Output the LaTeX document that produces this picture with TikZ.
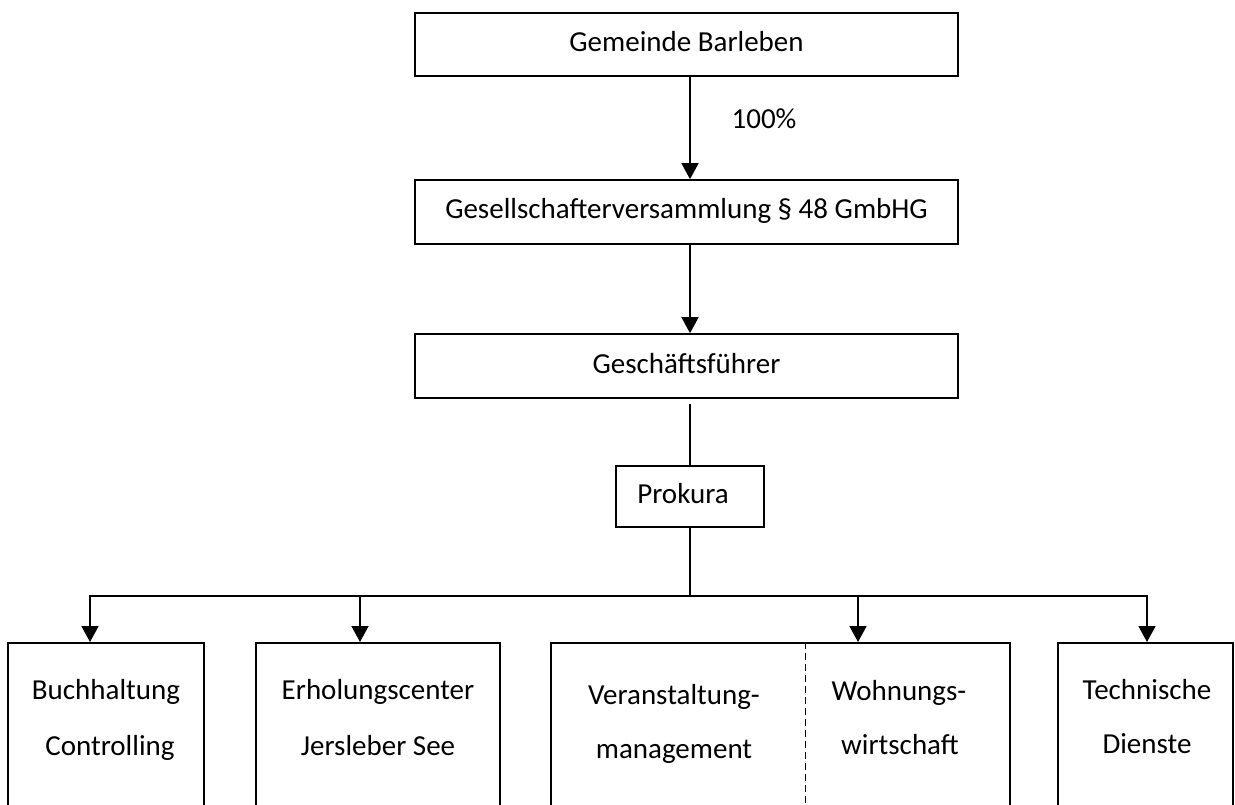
\documentclass[tikz,border=0pt]{standalone}
\usepackage{fontspec}
\setmainfont{Carlito}
\usetikzlibrary{arrows.meta}
\begin{document}
\begin{tikzpicture}[x=1pt,y=-1pt,
  font=\fontsize{29}{35}\selectfont,
  box/.style={draw, line width=1.7pt, inner sep=0pt, text height=20pt, text depth=6pt},
  conn/.style={line width=1.7pt},
  arr/.style={conn, -{Triangle[width=17pt,length=16pt]}},
  lbl/.style={inner sep=0pt, anchor=base},
  divider/.style={line width=1pt, dash pattern=on 7pt off 4pt}]
\useasboundingbox (0,0) rectangle (1235,805);
\clip (0,0) rectangle (1235,805);
\fill[white] (0,0) rectangle (1235,805);

% top chain
\node[box, minimum width=543pt, minimum height=63pt] (top) at (686.5,44.5) {Gemeinde Barleben};
\node[box, minimum width=543pt, minimum height=64pt] (gv) at (686.5,212) {Gesellschafterversammlung § 48 GmbHG};
\node[box, minimum width=543pt, minimum height=64pt] (gf) at (686.5,366) {Geschäftsführer};
\node[box, minimum width=148pt, minimum height=61pt] (pk) at (690,496.5) {Prokura\hspace*{14pt}};
\coordinate (axis) at (690,0);

\draw[arr] (axis |- top.south) -- (axis |- gv.north);
\node[lbl] (pct) at (764,129) {100\%};
\draw[arr] (axis |- gv.south) -- (axis |- gf.north);
\draw[conn, shorten <=5pt] (axis |- gf.south) -- (pk.north);

% bottom boxes (open at the lower edge of the picture)
\node[box, anchor=north, minimum width=196pt, minimum height=220pt] (b1) at (106,642) {};
\node[box, anchor=north, minimum width=244pt, minimum height=220pt] (b2) at (378,642) {};
\node[box, anchor=north, minimum width=459pt, minimum height=220pt] (b3) at (780.5,642) {};
\node[box, anchor=north, minimum width=175pt, minimum height=220pt] (b4) at (1145.5,642) {};

% distribution bar
\coordinate (bar) at (690,596);
\coordinate (a1) at (90,596);
\coordinate (a2) at (360,596);
\coordinate (a3) at (858,596);
\coordinate (a4) at (1147,596);
\draw[conn] (pk.south) -- (bar);
\draw[conn, {Triangle[width=17pt,length=16pt]}-{Triangle[width=17pt,length=16pt]}]
  (a1 |- b1.north) -- (a1) -- (a4) -- (a4 |- b4.north);
\draw[arr] (a2) -- (a2 |- b2.north);
\draw[arr] (a3) -- (a3 |- b3.north);

% dashed divider inside third box
\coordinate (dv) at (805,642);
\draw[divider] (dv) -- (dv |- b3.south);

% texts of the bottom boxes
\node[lbl] (t1a) at (106,699) {Buchhaltung};
\node[lbl] (t1b) at (110,755) {Controlling};
\node[lbl] (t2a) at (378,699) {Erholungscenter};
\node[lbl] (t2b) at (378,755) {Jersleber See};
\node[lbl] (t3a) at (674,704) {Veranstaltung-};
\node[lbl] (t3b) at (674,758) {management};
\node[lbl] (t4a) at (899,700) {Wohnungs-};
\node[lbl] (t4b) at (900,754) {wirtschaft};
\node[lbl] (t5a) at (1147,699) {Technische};
\node[lbl] (t5b) at (1147,753) {Dienste};
\end{tikzpicture}
\end{document}
